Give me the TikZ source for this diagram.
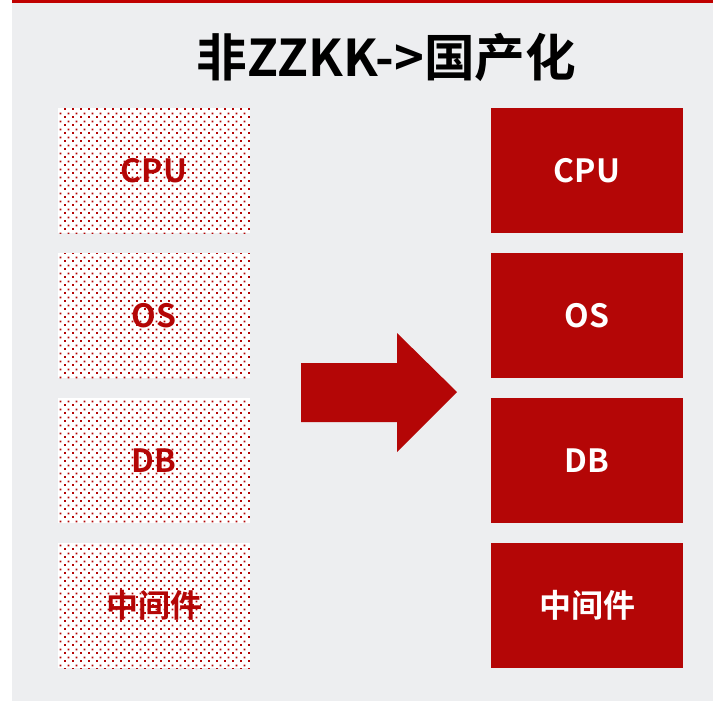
\documentclass[tikz,border=0pt]{standalone}
\usepackage{fontspec}
\setmainfont{Noto Sans CJK SC}[BoldFont={* Bold}]
\usetikzlibrary{patterns}
\definecolor{cnred}{RGB}{180,6,6}
\definecolor{barred}{RGB}{192,0,0}
\definecolor{bggray}{RGB}{237,238,240}
\pgfdeclarepatternformonly{reddots}{\pgfqpoint{0pt}{0pt}}{\pgfqpoint{6pt}{6pt}}{\pgfqpoint{6pt}{6pt}}{%
  \pgfpathrectangle{\pgfqpoint{0pt}{0pt}}{\pgfqpoint{1.6pt}{1.6pt}}%
  \pgfpathrectangle{\pgfqpoint{3pt}{3pt}}{\pgfqpoint{1.6pt}{1.6pt}}%
  \pgfusepath{fill}}
\tikzset{
  oldbox/.style={fill=white, pattern=reddots, pattern color=cnred,
    minimum width=144pt, minimum height=93.75pt, inner sep=0pt,
    text=cnred, font=\bfseries\fontsize{24}{28}\selectfont},
  newbox/.style={fill=cnred, minimum width=144pt, minimum height=93.75pt,
    inner sep=0pt, text=white, font=\bfseries\fontsize{24}{28}\selectfont},
}
\begin{document}
\begin{tikzpicture}[x=0.75pt, y=-0.75pt]
  \useasboundingbox (0,0) rectangle (713,701);
  \fill[bggray] (12,0) rectangle (713,701);
  \fill[barred] (12,0) rectangle (713,3);

  \node[font=\bfseries\fontsize{38}{42}\selectfont] (title) at (386.5,57) {非ZZKK->国产化};

  % before
  \fill[white] (58,108) rectangle (250,233);
  \node[oldbox] (cpuold) at (154,170.5) {CPU};
  \fill[white] (58,253) rectangle (250,378);
  \node[oldbox] (osold) at (154,315.5) {OS};
  \fill[white] (58,398) rectangle (250,523);
  \node[oldbox] (dbold) at (154,460.5) {DB};
  \fill[white] (58,543) rectangle (250,668);
  \node[oldbox] (mwold) at (154,605.5) {中间件};

  % after
  \node[newbox] (cpunew) at (587,170.5) {CPU};
  \node[newbox] (osnew) at (587,315.5) {OS};
  \node[newbox] (dbnew) at (587,460.5) {DB};
  \node[newbox] (mwnew) at (587,605.5) {中间件};

  \fill[cnred] (301,363) -- (397,363) -- (397,333) -- (457,392)
    -- (397,452) -- (397,422) -- (301,422) -- cycle;
\end{tikzpicture}
\end{document}
